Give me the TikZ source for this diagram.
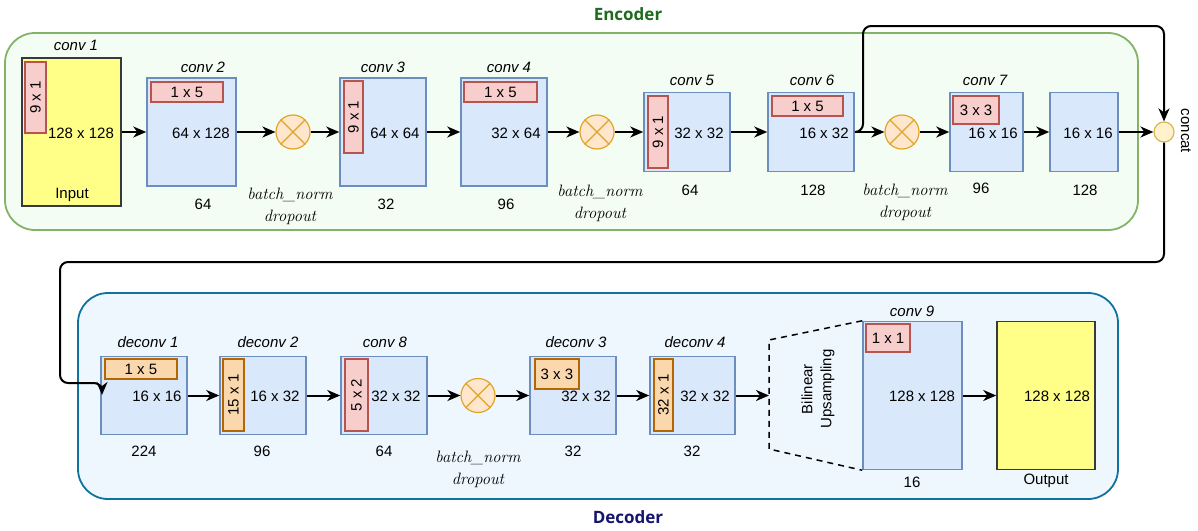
\documentclass[tikz,border=0pt]{standalone}
\usepackage{fontspec}
\newfontfamily\lab{Liberation Sans}
\newfontfamily\ttl{Open Sans}
\usetikzlibrary{arrows.meta}

\definecolor{encfill}{HTML}{F4FDF4}
\definecolor{encline}{HTML}{82B366}
\definecolor{enctext}{HTML}{1E6B1E}
\definecolor{decfill}{HTML}{EEF6FE}
\definecolor{decline}{HTML}{10739E}
\definecolor{dectext}{HTML}{15156E}
\definecolor{blkfill}{HTML}{DAE8FC}
\definecolor{blkline}{HTML}{6C8EBF}
\definecolor{iofill}{HTML}{FFFF88}
\definecolor{ioline}{HTML}{36393D}
\definecolor{krfill}{HTML}{F8CECC}
\definecolor{krline}{HTML}{B85450}
\definecolor{kofill}{HTML}{FAD7AC}
\definecolor{koline}{HTML}{B46504}
\definecolor{sumfill}{HTML}{FFE6CC}
\definecolor{sumline}{HTML}{E0A526}
\definecolor{catfill}{HTML}{FFF2CC}
\definecolor{catline}{HTML}{D6B656}

\begin{document}
\begin{tikzpicture}
  [x=1pt,y=-1pt,
   every node/.style={font=\lab\fontsize{15}{18}\selectfont,inner sep=0pt},
   encbox/.style={draw=encline,fill=encfill,line width=1.8pt,rounded corners=30pt},
   decbox/.style={draw=decline,fill=decfill,line width=1.8pt,rounded corners=30pt},
   hdr/.style={font=\ttl\bfseries\fontsize{17}{20}\selectfont},
   blk/.style={draw=blkline,fill=blkfill,line width=1.5pt},
   io/.style={draw=ioline,fill=iofill,line width=1.5pt},
   kr/.style={draw=krline,fill=krfill,line width=1.5pt},
   ko/.style={draw=koline,fill=kofill,line width=1.5pt},
   sum/.style={circle,draw=sumline,fill=sumfill,line width=1.2pt,minimum size=34pt},
   nm/.style={font=\lab\itshape\fontsize{15}{18}\selectfont},
   bn/.style={font=\itshape\fontsize{16.5}{22}\selectfont,align=center},
   arr/.style={-{Stealth[length=13pt,width=11pt,inset=4pt]},line width=2pt}]
  \useasboundingbox (0,0) rectangle (1198,530);

  % containers
  \draw[encbox] (5,33) rectangle (1138,230);
  \draw[decbox] (78,293) rectangle (1118,499);
  \node[hdr,text=enctext] (enc) at (628,14) {Encoder};
  \node[hdr,text=dectext] (dec) at (628,517) {Decoder};

  % encoder
  \node[io,minimum width=99,minimum height=148] (c1) at (71.5,132) {};
  \node[kr,rotate=90,minimum width=71,minimum height=21] (k1) at (35.5,97.5) {9 x 1};
  \node (t1) at (81,133) {128 x 128};
  \node (in) at (72,195) {Input};
  \node[nm] (n1) at (76,45) {conv 1};

  \node[blk,minimum width=89,minimum height=108] (c2) at (191.5,132) {};
  \node[kr,minimum width=72,minimum height=20] (k2) at (187,92) {1 x 5};
  \node (t2) at (201,133) {64 x 128};
  \node (f2) at (203,204) {64};
  \node[nm] (n2) at (203,67) {conv 2};

  \node[sum] (s1) at (293,132) {};
  \node[bn] (b1) at (290,206) {batch\_norm\\dropout};

  \node[blk,minimum width=86,minimum height=108] (c3) at (383,132) {};
  \node[kr,rotate=90,minimum width=72,minimum height=19] (k3) at (353.5,117) {9 x 1};
  \node (t3) at (395,133) {64 x 64};
  \node (f3) at (386,204) {32};
  \node[nm] (n3) at (383,67) {conv 3};

  \node[blk,minimum width=86,minimum height=108] (c4) at (504,132) {};
  \node[kr,minimum width=73,minimum height=20] (k4) at (500.5,92) {1 x 5};
  \node (t4) at (516,133) {32 x 64};
  \node (f4) at (506,204) {96};
  \node[nm] (n4) at (509,67) {conv 4};

  \node[sum] (s2) at (597,132) {};
  \node[bn] (b2) at (600,203) {batch\_norm\\dropout};

  \node[blk,minimum width=86,minimum height=79] (c5) at (687,132) {};
  \node[kr,rotate=90,minimum width=72,minimum height=20] (k5) at (658,132) {9 x 1};
  \node (t5) at (699,133) {32 x 32};
  \node (f5) at (690,190) {64};
  \node[nm] (n5) at (692,80) {conv 5};

  \node[blk,minimum width=86,minimum height=79] (c6) at (811,132) {};
  \node[kr,minimum width=71,minimum height=20] (k6) at (807.5,106) {1 x 5};
  \node (t6) at (824,133) {16 x 32};
  \node (f6) at (813,190) {128};
  \node[nm] (n6) at (812,80) {conv 6};

  \node[sum] (s3) at (902,132) {};
  \node[bn] (b3) at (905,202) {batch\_norm\\dropout};

  \node[blk,minimum width=73,minimum height=79] (c7) at (986.5,132) {};
  \node[kr,minimum width=46,minimum height=28] (k7) at (976,110) {3 x 3};
  \node (t7) at (993,133) {16 x 16};
  \node (f7) at (981,188) {96};
  \node[nm] (n7) at (985,80) {conv 7};

  \node[blk,minimum width=68,minimum height=79] (c8) at (1084,132) {};
  \node (t8) at (1088,133) {16 x 16};
  \node (f8) at (1085,190) {128};

  \node[circle,draw=catline,fill=catfill,line width=1.2pt,minimum size=20pt] (cc) at (1164,132) {};
  \node[rotate=-90] (ct) at (1186,131) {concat};

  % decoder
  \node[blk,minimum width=86,minimum height=78] (d1) at (144,395.5) {};
  \node[ko,minimum width=72,minimum height=20] (q1) at (141,369) {1 x 5};
  \node (u1) at (157,396) {16 x 16};
  \node (g1) at (144,451) {224};
  \node[nm] (m1) at (148,342) {deconv 1};

  \node[blk,minimum width=86,minimum height=78] (d2) at (263,395.5) {};
  \node[ko,rotate=90,minimum width=72,minimum height=21] (q2) at (233.5,395) {15 x 1};
  \node (u2) at (275,396) {16 x 32};
  \node (g2) at (262,451) {96};
  \node[nm] (m2) at (268,342) {deconv 2};

  \node[blk,minimum width=86,minimum height=78] (c8d) at (384,395.5) {};
  \node[kr,rotate=90,minimum width=72,minimum height=23] (q3) at (356.5,395) {5 x 2};
  \node (u3) at (396,396) {32 x 32};
  \node (g3) at (384,451) {64};
  \node[nm] (m3) at (385,342) {conv 8};

  \node[sum] (s4) at (478,395.5) {};
  \node[bn] (b4) at (478,469) {batch\_norm\\dropout};

  \node[blk,minimum width=86,minimum height=78] (d3) at (573,395.5) {};
  \node[ko,minimum width=44,minimum height=30] (q4) at (557,374) {3 x 3};
  \node (u4) at (586,396) {32 x 32};
  \node (g4) at (573,451) {32};
  \node[nm] (m4) at (576,342) {deconv 3};

  \node[blk,minimum width=85,minimum height=78] (d4) at (692.5,395.5) {};
  \node[ko,rotate=90,minimum width=72,minimum height=19] (q5) at (663.5,395) {32 x 1};
  \node (u5) at (705,396) {32 x 32};
  \node (g5) at (692,451) {32};
  \node[nm] (m5) at (695,342) {deconv 4};

  \node[rotate=90,align=center,font=\lab\fontsize{15}{19}\selectfont] (bil) at (818,389) {Bilinear\\Upsampling};

  \node[blk,minimum width=99,minimum height=148] (c9) at (912.5,395.5) {};
  \node[kr,minimum width=44,minimum height=28] (q6) at (888,338) {1 x 1};
  \node (u6) at (922,396) {128 x 128};
  \node (g6) at (912,482) {16};
  \node[nm] (m6) at (912,311) {conv 9};

  \node[io,minimum width=98,minimum height=148] (out) at (1046,395.5) {};
  \node (u7) at (1057,396) {128 x 128};
  \node (ot) at (1046,481) {Output};

  % sum signs
  \foreach \s in {s1,s2,s3,s4}
    \draw[sumline,line width=1.2pt] (\s.north west) -- (\s.south east)
      (\s.north east) -- (\s.south west);

  % upsampling fan
  \coordinate (up) at (769,395.5);
  \draw[dashed,line width=1.5pt,dash pattern=on 6pt off 5pt]
    (c9.north west) -- (769,340) -- (769,449) -- (c9.south west);

  % connectors
  \foreach \from/\to in {c1/c2,c2/s1,s1/c3,c3/c4,c4/s2,s2/c5,c5/c6,c6/s3,s3/c7,c7/c8,c8/cc,
                         d1/d2,d2/c8d,c8d/s4,s4/d3,d3/d4,c9/out}
    \draw[arr] (\from.east) -- (\to.west);
  \draw[arr] (d4.east) -- (up);

  % skip and wrap round
  \coordinate (skip) at (863,26);
  \coordinate (turn) at (60,262);
  \coordinate (d1in) at (102,383);
  \coordinate (d1tip) at (102,395);
  \draw[arr,rounded corners=8pt] (c6.east) -| (skip) -| (cc.north);
  \draw[arr,rounded corners=8pt] (cc.south) |- (turn) |- (d1in) -- (d1tip);
\end{tikzpicture}
\end{document}
